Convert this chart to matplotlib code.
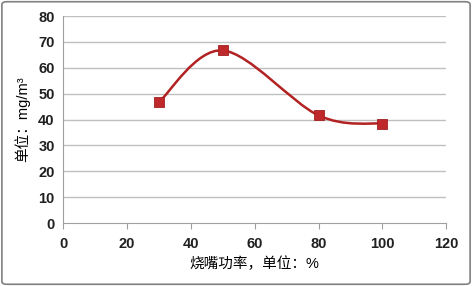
import numpy as np
import matplotlib
matplotlib.use('Agg')
import matplotlib.pyplot as plt
from matplotlib.path import Path
from matplotlib.patches import PathPatch, FancyBboxPatch

plt.rcParams['font.family'] = ['Liberation Sans', 'Noto Sans CJK SC']

# 数据
power = [30, 50, 80, 100]
conc = [46.7, 66.7, 41.6, 38.4]
x_ticks = [0, 20, 40, 60, 80, 100, 120]
y_ticks = [0, 10, 20, 30, 40, 50, 60, 70, 80]
x_label = '烧嘴功率，单位：%'
y_label = '单位：mg/m³'

line_color = '#b22222'
marker_color = '#c0292b'


def smooth_path(x, y, t=1/6):
    """Excel 风格的平滑线（Catmull-Rom -> Bezier）"""
    pts = np.column_stack([x, y]).astype(float)
    verts = [pts[0]]
    codes = [Path.MOVETO]
    n = len(pts)
    for i in range(n - 1):
        p0 = pts[i - 1] if i > 0 else pts[i]
        p1 = pts[i]
        p2 = pts[i + 1]
        p3 = pts[i + 2] if i + 2 < n else pts[i + 1]
        c1 = p1 + (p2 - p0) * t
        c2 = p2 - (p3 - p1) * t
        verts += [c1, c2, p2]
        codes += [Path.CURVE4] * 3
    return Path(verts, codes)


fig = plt.figure(figsize=(4.72, 2.86), dpi=100)
ax = fig.add_axes([0.1335, 0.22, 0.812, 0.724])

for yt in y_ticks[1:]:
    ax.axhline(yt, color='#c0c0c0', lw=1.0, zorder=0)

# 平滑曲线在像素坐标下计算
disp = ax.transData
ax.set_xlim(0, 120)
ax.set_ylim(0, 80)
path = smooth_path(power, conc)
ax.add_patch(PathPatch(path, facecolor='none', edgecolor=line_color, lw=1.8, zorder=2))
ax.plot(power, conc, ls='none', marker='s', ms=7, color=marker_color,
        markeredgecolor='#a02020', mew=0.6, zorder=3)

ax.set_xticks(x_ticks)
ax.set_yticks(y_ticks)
ax.tick_params(axis='x', direction='out', length=4, color='#a0a0a0', labelsize=10.5, pad=6)
ax.tick_params(axis='y', length=0, labelsize=10.5, pad=6)
for lab in ax.get_xticklabels() + ax.get_yticklabels():
    lab.set_fontweight('bold')
    lab.set_color('#202020')

for s in ['top', 'right']:
    ax.spines[s].set_visible(False)
ax.spines['left'].set_color('#a0a0a0')
ax.spines['bottom'].set_color('#a0a0a0')

ax.set_xlabel(x_label, fontsize=10.5, labelpad=4)
ax.set_ylabel(y_label, fontsize=10.5, labelpad=6)

border = FancyBboxPatch((0.004, 0.006), 0.992, 0.988, boxstyle='round,pad=0,rounding_size=0.01',
                        transform=fig.transFigure, facecolor='none', edgecolor='#808080', lw=1.2)
fig.patches.append(border)

fig.savefig('out.png', dpi=100)
